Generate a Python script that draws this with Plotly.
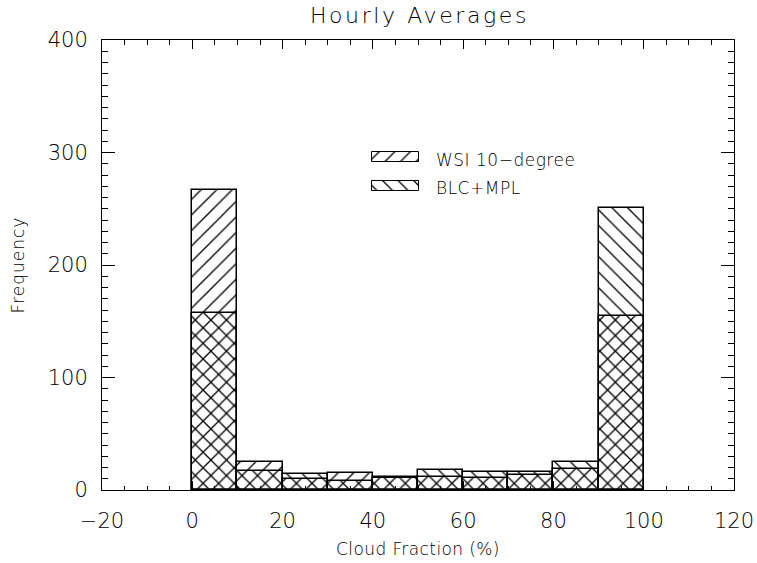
import plotly.graph_objects as go

# ---- data ----
bin_start = [0, 10, 20, 30, 40, 50, 60, 70, 80, 90]
bin_width = 10
wsi_10deg = [267, 25, 10, 15, 12, 12, 11, 13, 19, 155]
blc_mpl = [157, 17, 14, 8, 11, 18, 16, 16, 25, 251]
series_names = ["WSI 10\u2212degree", "BLC+MPL"]
x_ticks = [-20, 0, 20, 40, 60, 80, 100, 120]
y_ticks = [0, 100, 200, 300, 400]

FONT = "DejaVu Sans"
W, H = 757, 563
L, R, T, B = 102, 23, 40, 73
PW, PH = W - L - R, H - T - B

fig = go.Figure()

def hatch(shape):
    return dict(shape=shape, size=11, solidity=0.12, fgcolor="black",
                fillmode="replace", fgopacity=1)

fig.add_trace(go.Bar(
    x=bin_start, y=wsi_10deg, width=[bin_width] * len(bin_start), offset=0,
    marker=dict(color="rgba(0,0,0,0)", pattern=hatch("/"),
                line=dict(color="black", width=1.5)),
    name=series_names[0], showlegend=False))
fig.add_trace(go.Bar(
    x=bin_start, y=blc_mpl, width=[bin_width] * len(bin_start), offset=0,
    marker=dict(color="rgba(0,0,0,0)", pattern=hatch("\\"),
                line=dict(color="black", width=1.5)),
    name=series_names[1], showlegend=False))

# legend swatches on an overlay axis in plot-fraction coordinates
sw_x0 = (372 - L) / PW
sw_w = (419 - 372) / PW
leg_rows = [(152, 162), (181, 191)]
shapes = ["/", "\\"]
for (top, bot), shp, nm in zip(leg_rows, shapes, series_names):
    base = (T + PH - bot) / PH
    hgt = (bot - top) / PH
    fig.add_trace(go.Bar(
        x=[sw_x0], y=[hgt], base=[base], width=[sw_w], offset=0,
        xaxis="x2", yaxis="y2",
        marker=dict(color="rgba(0,0,0,0)", pattern=hatch(shp),
                    line=dict(color="black", width=1)),
        showlegend=False, hoverinfo="skip"))
    fig.add_annotation(
        x=(434 - L) / PW, y=(T + PH - (top + bot) / 2 - 2.5) / PH,
        xref="paper", yref="paper", xanchor="left", yanchor="middle",
        text='<span style="letter-spacing:0.5px">%s</span>' % nm, showarrow=False,
        font=dict(family=FONT, size=17, color="black", weight=200))

axis_common = dict(
    showline=True, linecolor="black", linewidth=1, mirror="allticks",
    ticks="inside", tickcolor="black", tickwidth=1,
    showgrid=False, zeroline=False, automargin=False,
    tickfont=dict(family=FONT, size=21, color="black", weight=200),
)

fig.update_layout(
    width=W, height=H,
    margin=dict(l=L, r=R, t=T, b=B, pad=0, autoexpand=False),
    paper_bgcolor="white", plot_bgcolor="white",
    barmode="overlay", bargap=0,
    title=dict(text='<span style="letter-spacing:2.6px">Hourly Averages</span>',
               x=(L + PW / 2 + 1.5) / W, xanchor="center",
               y=1 - 15 / H, yanchor="middle", yref="container",
               font=dict(family=FONT, size=22, color="black", weight=200)),
    xaxis=dict(range=[-20, 120], tickvals=x_ticks, ticklen=9,
               minor=dict(dtick=5, tick0=0, ticklen=4.5, ticks="inside",
                          tickcolor="black", tickwidth=1),
               ticklabelstandoff=12,
               title=dict(text='<span style="letter-spacing:0.4px">Cloud Fraction (%)</span>',
                          standoff=10,
                          font=dict(family=FONT, size=17, color="black", weight=200)),
               **axis_common),
    yaxis=dict(range=[0, 400], tickvals=y_ticks, ticklen=12.6,
               minor=dict(dtick=10, tick0=0, ticklen=6.3, ticks="inside",
                          tickcolor="black", tickwidth=1),
               ticklabelstandoff=9,
               title=dict(text='<span style="letter-spacing:1px">Frequency</span>',
                          standoff=18,
                          font=dict(family=FONT, size=17, color="black", weight=200)),
               **axis_common),
    xaxis2=dict(overlaying="x", range=[0, 1], visible=False, anchor="y2"),
    yaxis2=dict(overlaying="y", range=[0, 1], visible=False, anchor="x2"),
    showlegend=False,
)

fig.write_html("out.html",
               config={"displayModeBar": False},
               post_script="document.body.style.margin='0';document.body.style.padding='0';")
